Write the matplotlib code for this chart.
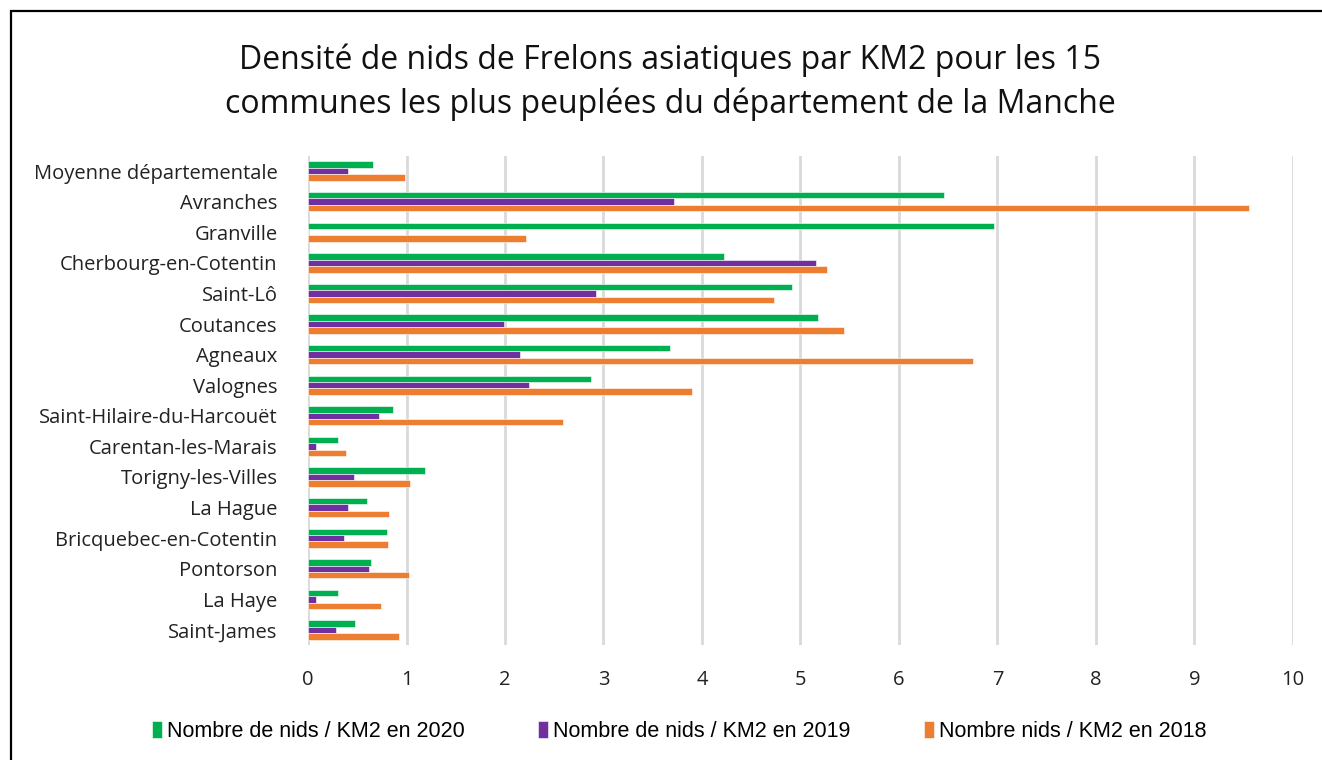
import numpy as np
import matplotlib
matplotlib.use('Agg')
import matplotlib.pyplot as plt
from matplotlib.patches import Rectangle

communes = ['Moyenne départementale', 'Avranches', 'Granville', 'Cherbourg-en-Cotentin',
            'Saint-Lô', 'Coutances', 'Agneaux', 'Valognes', 'Saint-Hilaire-du-Harcouët',
            'Carentan-les-Marais', 'Torigny-les-Villes', 'La Hague', 'Bricquebec-en-Cotentin',
            'Pontorson', 'La Haye', 'Saint-James']
nids_2020 = [0.66, 6.46, 6.97, 4.22, 4.91, 5.18, 3.68, 2.87, 0.86, 0.30, 1.19, 0.60, 0.80, 0.64, 0.30, 0.48]
nids_2019 = [0.41, 3.72, 0.00, 5.16, 2.92, 1.99, 2.15, 2.24, 0.72, 0.08, 0.47, 0.41, 0.37, 0.62, 0.08, 0.28]
nids_2018 = [0.98, 9.55, 2.21, 5.27, 4.73, 5.44, 6.75, 3.90, 2.59, 0.39, 1.04, 0.82, 0.81, 1.03, 0.74, 0.92]

labels = ['Nombre de nids / KM2 en 2020', 'Nombre de nids / KM2 en 2019', 'Nombre nids / KM2 en 2018']
couleurs = ['#00b050', '#7030a0', '#ed7d31']

plt.rcParams['font.family'] = ['Open Sans', 'DejaVu Sans']

fig = plt.figure(figsize=(13.22, 7.6), dpi=100)
ax = fig.add_axes([0.233, 0.151, 0.745, 0.644])

y = np.arange(len(communes))
h = 0.21
for k, (vals, lab, c) in enumerate(zip([nids_2020, nids_2019, nids_2018], labels, couleurs)):
    ax.barh(y + (k - 1) * h, vals, height=h, color=c, label=lab,
            edgecolor='white', linewidth=0.4, zorder=3)

ax.set_xlim(0, 10)
ax.set_ylim(len(communes) - 0.5, -0.5)
ax.set_xticks(range(0, 11))
ax.set_yticks(y)
ax.set_yticklabels(communes)
ax.tick_params(axis='both', length=0, labelsize=14.5, colors='#222222')
ax.tick_params(axis='x', pad=18)
ax.tick_params(axis='y', pad=22)
ax.grid(axis='x', color='#d9d9d9', linewidth=2, zorder=0)
for s in ['top', 'right', 'bottom', 'left']:
    ax.spines[s].set_visible(False)

fig.text(0.507, 0.892, 'Densité de nids de Frelons asiatiques par KM2 pour les 15\n'
         'communes les plus peuplées du département de la Manche',
         ha='center', va='center', fontsize=23, linespacing=1.4, color='#111111')

fig.legend(loc='center', bbox_to_anchor=(0.514, 0.038), ncol=3, frameon=False,
           prop={'family': 'Liberation Sans', 'size': 15.5}, handlelength=0.45,
           handleheight=0.85, handletextpad=0.25, columnspacing=3.4)

fig.add_artist(Rectangle((11 / 1322, -0.1), 1.1, 1 - 11 / 760 + 0.1,
                         transform=fig.transFigure, fill=False,
                         edgecolor='black', linewidth=1.6))

fig.savefig('out.png', dpi=100)
